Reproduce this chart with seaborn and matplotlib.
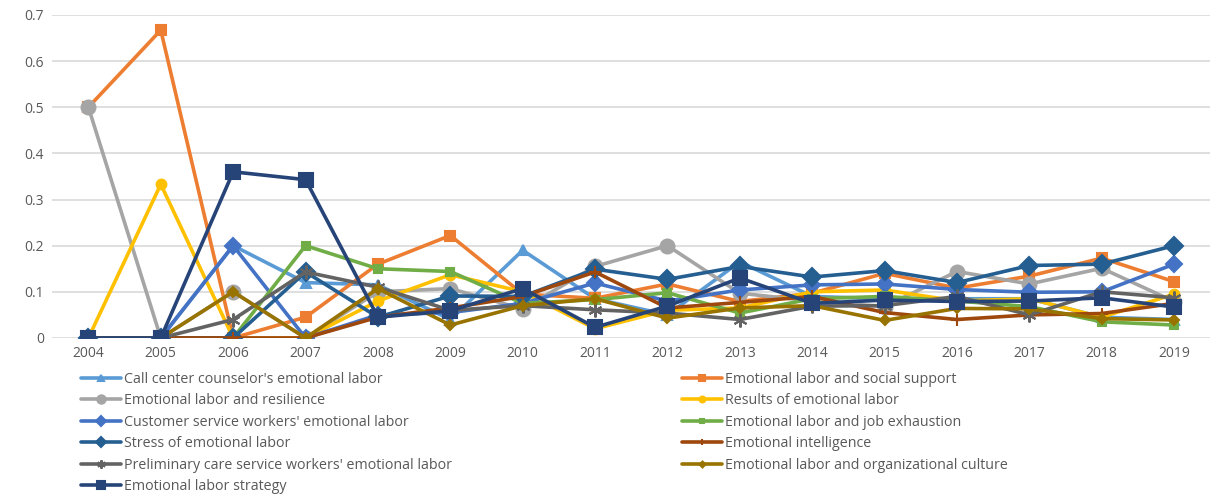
import pandas as pd
import seaborn as sns
import matplotlib.pyplot as plt

years = list(range(2004, 2020))

call_center = [0, 0, 0.2, 0.12, 0.115, 0.04, 0.19, 0.085, 0.05, 0.165, 0.09, 0.085, 0.085, 0.085, 0.045, 0.04]
social_support = [0.5, 0.667, 0, 0.045, 0.16, 0.222, 0.095, 0.086, 0.117, 0.079, 0.097, 0.14, 0.108, 0.134, 0.173, 0.122]
resilience = [0.5, 0, 0.1, 0, 0.1, 0.107, 0.063, 0.155, 0.2, 0.097, 0.08, 0.068, 0.144, 0.117, 0.151, 0.079]
results = [0, 0.333, 0, 0, 0.08, 0.137, 0.1, 0.02, 0.06, 0.065, 0.1, 0.104, 0.08, 0.085, 0.045, 0.095]
customer = [0, 0, 0.2, 0, 0.05, 0.055, 0.075, 0.119, 0.08, 0.104, 0.115, 0.117, 0.105, 0.099, 0.1, 0.16]
job_exhaustion = [0, 0, 0, 0.2, 0.15, 0.144, 0.075, 0.083, 0.098, 0.054, 0.085, 0.09, 0.08, 0.068, 0.035, 0.028]
stress = [0, 0, 0, 0.143, 0.045, 0.091, 0.09, 0.149, 0.127, 0.155, 0.132, 0.146, 0.12, 0.157, 0.16, 0.2]
intelligence = [0, 0, 0, 0, 0.045, 0.065, 0.09, 0.143, 0.065, 0.077, 0.09, 0.055, 0.04, 0.05, 0.053, 0.075]
preliminary = [0, 0, 0.04, 0.143, 0.11, 0.06, 0.07, 0.061, 0.054, 0.04, 0.069, 0.07, 0.09, 0.05, 0.1, 0.087]
org_culture = [0, 0, 0.1, 0, 0.107, 0.028, 0.07, 0.085, 0.043, 0.065, 0.07, 0.038, 0.064, 0.063, 0.042, 0.039]
strategy = [0, 0, 0.36, 0.343, 0.045, 0.059, 0.107, 0.023, 0.069, 0.13, 0.075, 0.082, 0.079, 0.08, 0.087, 0.067]

series_names = [
    "Call center counselor's emotional labor",
    "Emotional labor and social support",
    "Emotional labor and resilience",
    "Results of emotional labor",
    "Customer service workers' emotional labor",
    "Emotional labor and job exhaustion",
    "Stress of emotional labor",
    "Emotional intelligence",
    "Preliminary care service workers' emotional labor",
    "Emotional labor and organizational culture",
    "Emotional labor strategy",
]
series_values = [call_center, social_support, resilience, results, customer, job_exhaustion,
                 stress, intelligence, preliminary, org_culture, strategy]

# colour, marker, marker size
styles = [
    ("#5B9BD5", "^", 7),
    ("#ED7D31", "s", 7),
    ("#A5A5A5", "o", 10),
    ("#FFC000", "o", 7),
    ("#4472C4", "D", 8),
    ("#70AD47", "s", 6),
    ("#255E91", "D", 9),
    ("#9E480E", "+", 8),
    ("#636363", (6, 2, 0), 10),
    ("#997300", "D", 5),
    ("#264478", "s", 10),
]

df = pd.DataFrame({
    "year": years * len(series_names),
    "value": [v for vals in series_values for v in vals],
    "series": [n for n in series_names for _ in years],
})

sns.set_theme(style="white")
plt.rcParams["font.family"] = ["Open Sans", "DejaVu Sans"]

fig = plt.figure(figsize=(12.14, 4.97), dpi=100)
ax = fig.add_axes([0.043, 0.320, 0.954, 0.650])

handles = []
for name, (color, marker, ms) in zip(series_names, styles):
    sub = df[df["series"] == name]
    sns.lineplot(data=sub, x="year", y="value", ax=ax, color=color, linewidth=2.6,
                 marker=marker, markersize=ms, markeredgecolor=color,
                 markeredgewidth=1.5, label=name, legend=False)
    handles.append(ax.get_lines()[-1])

ax.set_xlim(2003.5, 2019.5)
ax.set_ylim(0, 0.7)
ax.set_yticks([0, 0.1, 0.2, 0.3, 0.4, 0.5, 0.6, 0.7])
ax.set_yticklabels(["0", "0.1", "0.2", "0.3", "0.4", "0.5", "0.6", "0.7"])
ax.set_xticks(years)
ax.set_xticklabels([str(y) for y in years])
ax.tick_params(axis="both", length=0, labelsize=10, labelcolor="#595959", pad=6)
ax.yaxis.grid(True, color="#D9D9D9", linewidth=1.2)
ax.set_axisbelow(True)
for s in ax.spines.values():
    s.set_visible(False)
ax.set_xlabel("")
ax.set_ylabel("")

# Excel fills legend row-wise; matplotlib fills column-wise
order = [0, 2, 4, 6, 8, 10, 1, 3, 5, 7, 9]
fig.legend([handles[i] for i in order], [series_names[i] for i in order],
           ncol=2, loc="upper left", bbox_to_anchor=(0.062, 0.264), frameon=False,
           fontsize=10.3, labelcolor="#595959", handlelength=2.8, handletextpad=0.2,
           columnspacing=16.1, labelspacing=0.46, borderaxespad=0, markerscale=0.6)

fig.savefig("out.png", dpi=100, facecolor="white")
